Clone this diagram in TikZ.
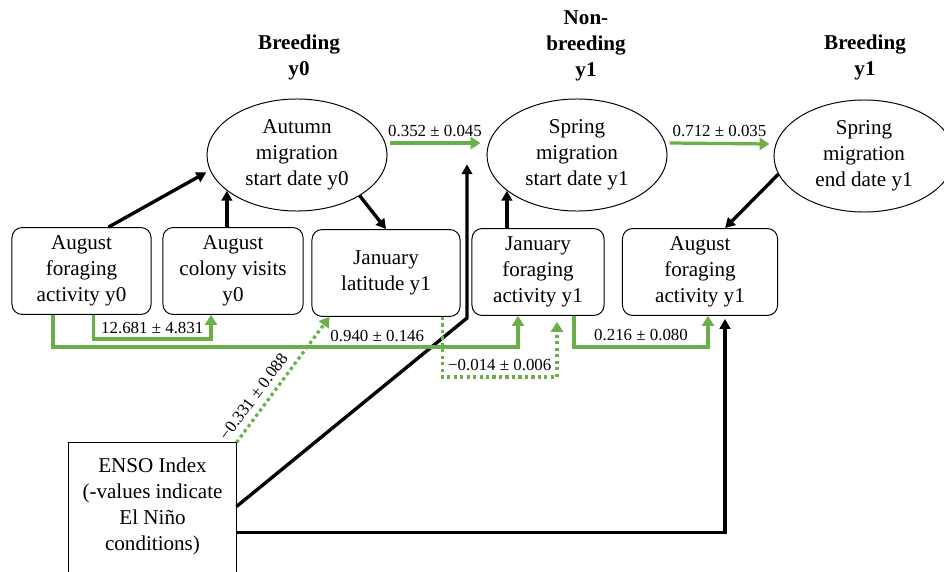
\documentclass[tikz,border=0pt]{standalone}
\usepackage{fontspec}
\setmainfont{Liberation Serif}
\usetikzlibrary{arrows.meta,shapes.geometric,calc}
\definecolor{pathgreen}{RGB}{106,175,72}

\begin{document}
\begin{tikzpicture}[x=0.025cm,y=-0.025cm,
  every node/.style={font=\fontsize{15}{18.5}\selectfont},
  phase/.style={align=center,font=\fontsize{15}{18.5}\selectfont\bfseries},
  stage/.style={ellipse,draw,line width=0.7pt,align=center,inner sep=0pt,
    minimum width=4.5cm,minimum height=2.8cm},
  trait/.style={rectangle,draw,rounded corners=0.25cm,line width=0.7pt,
    align=center,minimum height=2.17cm},
  effect/.style={-{Triangle[length=7pt,width=7.5pt]},line width=2.4pt},
  poseffect/.style={-{Triangle[length=7pt,width=8.5pt]},line width=2.3pt,pathgreen},
  negeffect/.style={poseffect,dash pattern=on 2.3pt off 2.3pt},
  coef/.style={font=\fontsize{12}{14}\selectfont,text=black,inner sep=1.5pt}]
  \useasboundingbox (0,0) rectangle (944,571);

  % season headers
  \node[phase] (hbreed0) at (299,57) {Breeding\\y0};
  \node[phase] (hnonbreed) at (586,46) {Non-\\breeding\\y1};
  \node[phase] (hbreed1) at (865,57) {Breeding\\y1};

  % migration timing
  \node[stage] (amy0) at (297,155) {Autumn\\migration\\start date y0};
  \node[stage] (smy1) at (577,155) {Spring\\migration\\start date y1};
  \node[stage] (sey1) at (864,156) {Spring\\migration\\end date y1};

  % behaviour boxes
  \node[trait,minimum width=3.475cm] (afy0) at (81.5,271) {August\\foraging\\activity y0};
  \node[trait,minimum width=3.5cm] (acv0) at (233,271) {August\\colony visits\\y0};
  \node[trait,minimum width=3.7cm] (jlat) at (386,273) {January\\latitude y1};
  \node[trait,minimum width=3.3cm] (jfa1) at (538,272) {January\\foraging\\activity y1};
  \node[trait,minimum width=3.875cm] (afa1) at (700,272) {August\\foraging\\activity y1};

  % climate driver
  \node[draw,line width=0.7pt,minimum width=4.175cm,minimum height=4.175cm] (enso) at (152.5,526.5) {};
  \node[align=center] (ensotext) at (152.5,506.5) {ENSO Index\\(-values indicate\\El Niño\\conditions)};

  % black paths
  \draw[effect,shorten >=3pt] ($(afy0.north)+(27,0)$) -- (amy0.190);
  \draw[effect] (acv0.north -| amy0.207) -- (amy0.207);
  \draw[effect] (amy0.-33) -- (jlat.north);
  \draw[effect] (jfa1.north -| smy1.207) -- (smy1.207);
  \draw[effect] (sey1.192) -- ($(afa1.north)+(25,0)$);
  \coordinate (ensobend) at (467,318);
  \draw[effect] ($(enso.north east)+(0,64)$) -- (ensobend) -- (ensobend |- smy1.186);
  \draw[effect] ($(enso.north east)+(0,90)$) -| ($(afa1.south)+(25,3)$);

  % green paths
  \draw[poseffect] ($(amy0.east)+(2,-12)$) -- ($(smy1.west)+(-6,-12)$)
    node[coef,midway,above=2pt] (c352) {0.352 ± 0.045};
  \draw[poseffect] ($(smy1.east)+(2,-12)$) -- ($(sey1.west)+(-4,-12)$)
    node[coef,midway,above=2pt] (c712) {0.712 ± 0.035};
  \draw[poseffect] ($(afy0.south)+(12,0)$) -- ++(0,24) -| ($(acv0.south)+(-22,0)$)
    node[coef,pos=0.25,above=1pt] (c12681) {12.681 ± 4.831};
  \draw[poseffect] ($(afy0.south)+(-28.5,0)$) -- ++(0,32) -| ($(jfa1.south)+(-20,0)$)
    node[coef,pos=0.403,anchor=south east,yshift=1pt] (c940) {0.940 ± 0.146};
  \draw[poseffect] ($(jfa1.south)+(36,0)$) -- ++(0,31) -| ($(afa1.south)+(8,0)$)
    node[coef,pos=0.25,above=2pt] (c216) {0.216 ± 0.080};
  \draw[negeffect] (enso.north east) -- ($(jlat.south west)+(18,0)$)
    node[coef,pos=0.3,sloped,above=3pt] (c331) {−0.331 ± 0.088};
  \draw[negeffect] ($(jlat.south east)+(-18,0)$) -- ++(0,60) -| ($(jfa1.south)+(19,6)$)
    node[coef,pos=0.25,above=2pt] (c014) {−0.014 ± 0.006};
\end{tikzpicture}
\end{document}
